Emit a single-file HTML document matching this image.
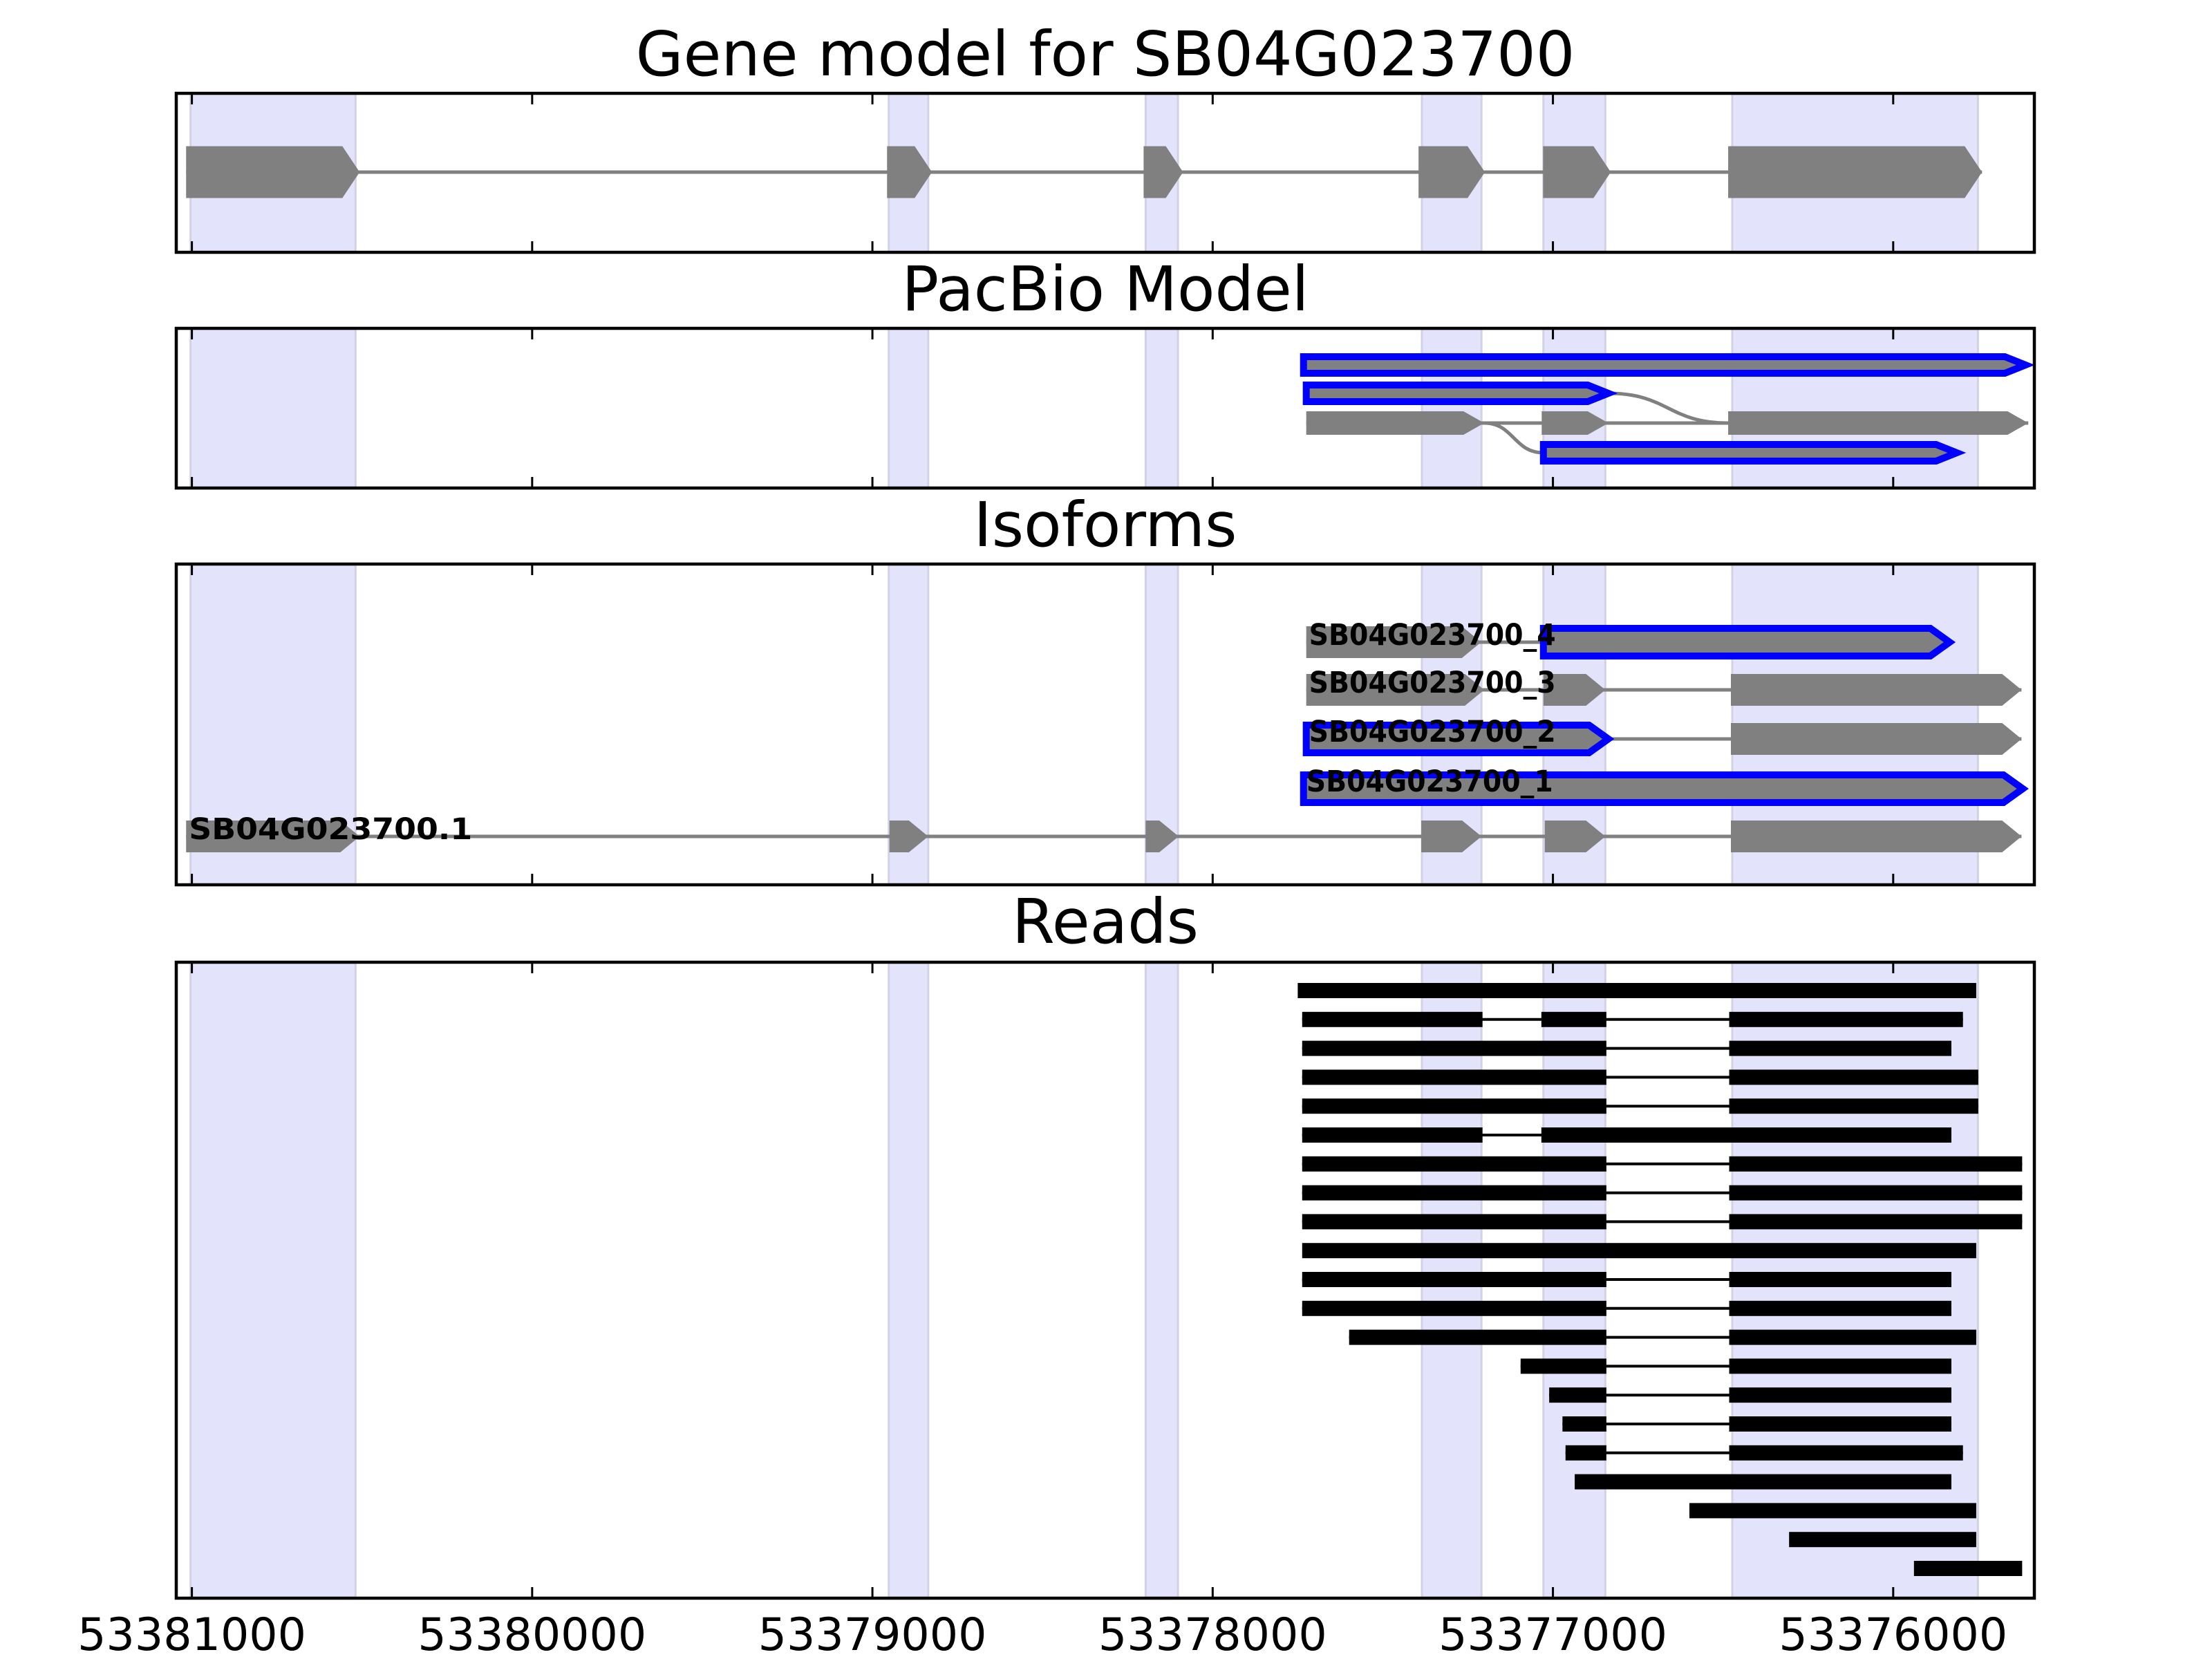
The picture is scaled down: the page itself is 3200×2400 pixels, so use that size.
<!DOCTYPE html>
<html><head><meta charset="utf-8"><style>
html,body{margin:0;padding:0;background:#fff;}
svg{display:block;font-family:"DejaVu Sans","Liberation Sans",sans-serif;}
</style></head><body>
<svg id="fig" width="3200" height="2400" viewBox="0 0 3200 2400" xmlns="http://www.w3.org/2000/svg"></svg>
<script>
// ---- data (genomic coordinates) ----
const tickValues = [53381000, 53380000, 53379000, 53378000, 53377000, 53376000];
const tickLabels = ["53381000", "53380000", "53379000", "53378000", "53377000", "53376000"];
const shadedStarts = [53381004, 53378952, 53378197, 53377385, 53377028, 53376473];
const shadedEnds   = [53380519, 53378836, 53378102, 53377210, 53376846, 53375751];
const geneExonStarts = [53381017, 53378957, 53378203, 53377395, 53377029, 53376485];
const geneExonEnds   = [53380507, 53378825, 53378087, 53377200, 53376830, 53375739];
// pacbio rows: [row][exon] start/end, outlined flag
const pacStarts = [[53377733],[53377725],[53377725,53377033,53376485],[53377028]];
const pacEnds   = [[53375611],[53376837],[53377202,53376837,53375603],[53375813]];
const pacOutlined = [true, true, false, true];
// isoform rows (top to bottom)
const isoNames = ["SB04G023700_4","SB04G023700_3","SB04G023700_2","SB04G023700_1","SB04G023700.1"];
const isoStarts = [[53377725,53377028],[53377725,53377028,53376477],[53377725,53376477],[53377733],
  [53381017,53378950,53378197,53377387,53377024,53376477]];
const isoEnds = [[53377211,53375834],[53377202,53376846,53375623],[53376837,53375623],[53375619],
  [53380507,53378836,53378100,53377210,53376846,53375623]];
const isoOutlined = [[false,true],[false,false,false],[true,false],[true],[false,false,false,false,false,false]];
// reads
const readStarts = [[53377750],[53377737,53377034,53376482],[53377737,53376482],[53377737,53376482],[53377737,53376482],
  [53377737,53377034],[53377737,53376482],[53377737,53376482],[53377737,53376482],[53377737],
  [53377737,53376482],[53377737,53376482],[53377599,53376482],[53377095,53376482],[53377011,53376482],
  [53376972,53376482],[53376963,53376482],[53376936],[53376599],[53376306],[53375939]];
const readEnds = [[53375756],[53377207,53376843,53375795],[53376843,53375829],[53376843,53375750],[53376843,53375750],
  [53377207,53375829],[53376843,53375621],[53376843,53375621],[53376843,53375621],[53375756],
  [53376843,53375829],[53376843,53375829],[53376843,53375756],[53376843,53375829],[53376843,53375829],
  [53376843,53375829],[53376843,53375795],[53375829],[53375756],[53375756],[53375621]];

// ---- layout ----
const NS = "http://www.w3.org/2000/svg";
const svg = document.getElementById('fig');
const AX_L = 255, AX_R = 2943;
const T0 = 53381000, PX0 = 277.6, PXPERBP = 0.49224;
function xs(pos){ return PX0 + (T0 - pos) * PXPERBP; }
const panels = [
  {name:'gene-model-panel', title:'Gene model for SB04G023700', top:135, bot:365, ty:78},
  {name:'pacbio-panel', title:'PacBio Model', top:475, bot:706, ty:418},
  {name:'isoforms-panel', title:'Isoforms', top:816, bot:1280, ty:759},
  {name:'reads-panel', title:'Reads', top:1392, bot:2312, ty:1333}
];
function el(tag, attrs, parent){
  const e = document.createElementNS(NS, tag);
  for (const k in attrs) e.setAttribute(k, attrs[k]);
  (parent||svg).appendChild(e); return e;
}
function arrowPts(x1, x2, cy, h, tip){
  const t = Math.min(tip, x2 - x1);
  const top = cy - h/2, bot = cy + h/2;
  return `${x1},${top} ${x2-t},${top} ${x2},${cy} ${x2-t},${bot} ${x1},${bot}`;
}
function drawExon(g, s, e, cy, h, tip, outlined){
  const p = el('polygon', {points: arrowPts(xs(s), xs(e), cy, outlined ? h-10 : h, tip),
    fill:'#808080', stroke: outlined ? '#0000ff' : 'none', 'stroke-width': outlined ? 10 : 0,
    'stroke-linejoin':'miter'}, g);
  
  
}
function line(g, x1, y1, x2, y2, w, c){
  const l = el('line', {x1, y1, x2, y2, stroke:c, 'stroke-width':w}, g);
  
  
}

panels.forEach((p, pi) => {
  const g = el('g', {});
  
  
  for (let i = 0; i < shadedStarts.length; i++){
    const x1 = xs(shadedStarts[i]), x2 = xs(shadedEnds[i]);
    const r = el('rect', {x:x1, y:p.top, width:x2-x1, height:p.bot-p.top, fill:'#e3e3fb', stroke:'#d2d2e6', 'stroke-width':3}, g);
    
    
  }
  p.g = g;
  const t = el('text', {x:(AX_L+AX_R)/2, y:p.ty + 31, 'font-size':89, 'text-anchor':'middle', fill:'#000'});
  t.textContent = p.title;
  
  
});

// gene model
(function(){
  const g = panels[0].g, cy = 249;
  line(g, xs(geneExonStarts[0]), cy, xs(geneExonEnds[geneExonEnds.length-1]), cy, 5, '#808080');
  for (let i = 0; i < geneExonStarts.length; i++) drawExon(g, geneExonStarts[i], geneExonEnds[i], cy, 75, 25, false);
})();

// pacbio
(function(){
  const g = panels[1].g, ys = [528, 569, 612, 655];
  const curve = (xa, ya, xb, yb) => {
    const c = el('path', {d:`M${xa},${ya} C${(xa+xb)/2},${ya} ${(xa+xb)/2},${yb} ${xb},${yb}`, fill:'none', stroke:'#808080', 'stroke-width':5}, g);
    
    
  };
  curve(xs(pacEnds[1][0]), ys[1], xs(pacStarts[2][2]), ys[2]);
  curve(xs(pacEnds[2][0]), ys[2], xs(pacStarts[3][0]), ys[3]);
  for (let r = 0; r < pacStarts.length; r++){
    if (pacStarts[r].length > 1) line(g, xs(pacStarts[r][0]), ys[r], xs(pacEnds[r][pacEnds[r].length-1]), ys[r], 5, '#808080');
    for (let i = 0; i < pacStarts[r].length; i++) drawExon(g, pacStarts[r][i], pacEnds[r][i], ys[r], 34, 30, pacOutlined[r]);
  }
})();

// isoforms
(function(){
  const g = panels[2].g, ys = [929, 998, 1069, 1141, 1210];
  for (let r = 0; r < isoStarts.length; r++){
    const s = isoStarts[r], e = isoEnds[r];
    if (s.length > 1) line(g, xs(s[0]), ys[r], xs(e[e.length-1]), ys[r], 5, '#808080');
    for (let i = 0; i < s.length; i++){
      const o = isoOutlined[r][i];
      const p = el('polygon', {points: arrowPts(xs(s[i]), xs(e[i]), ys[r], o ? 40 : 46, 28),
        fill:'#808080', stroke: o ? '#0000ff' : 'none', 'stroke-width': o ? 10 : 0}, g);
      
      
    }
    const t = el('text', {x: xs(s[0]) + 4, y: ys[r] + 4, 'font-size':43, 'font-weight':'bold', fill:'#000',
      textLength: r < 4 ? 357 : 410, lengthAdjust:'spacingAndGlyphs'}, g);
    t.textContent = isoNames[r];
    
    
  }
})();

// reads
(function(){
  const g = panels[3].g;
  for (let r = 0; r < readStarts.length; r++){
    const cy = 1433 + r * 41.8, s = readStarts[r], e = readEnds[r];
    if (s.length > 1) line(g, xs(s[0]), cy, xs(e[e.length-1]), cy, 4, '#000');
    for (let i = 0; i < s.length; i++){
      const b = el('rect', {x: xs(s[i]), y: cy - 11, width: xs(e[i]) - xs(s[i]), height: 22, fill:'#000'}, g);
      
      
    }
  }
})();

// axes frames + ticks
panels.forEach((p) => {
  const f = el('rect', {x:AX_L, y:p.top, width:AX_R-AX_L, height:p.bot-p.top, fill:'none', stroke:'#000', 'stroke-width':4.5});
  
  
  tickValues.forEach(v => {
    const x = xs(v);
    const t1 = el('line', {x1:x, y1:p.top, x2:x, y2:p.top+16, stroke:'#000', 'stroke-width':3});
    
    
    const t2 = el('line', {x1:x, y1:p.bot, x2:x, y2:p.bot-16, stroke:'#000', 'stroke-width':3});
    
    
  });
});
tickValues.forEach((v, i) => {
  const t = el('text', {x: xs(v), y: 2387, 'font-size':65, 'text-anchor':'middle', fill:'#000'});
  t.textContent = tickLabels[i];
  
  
});
</script>
</body></html>
